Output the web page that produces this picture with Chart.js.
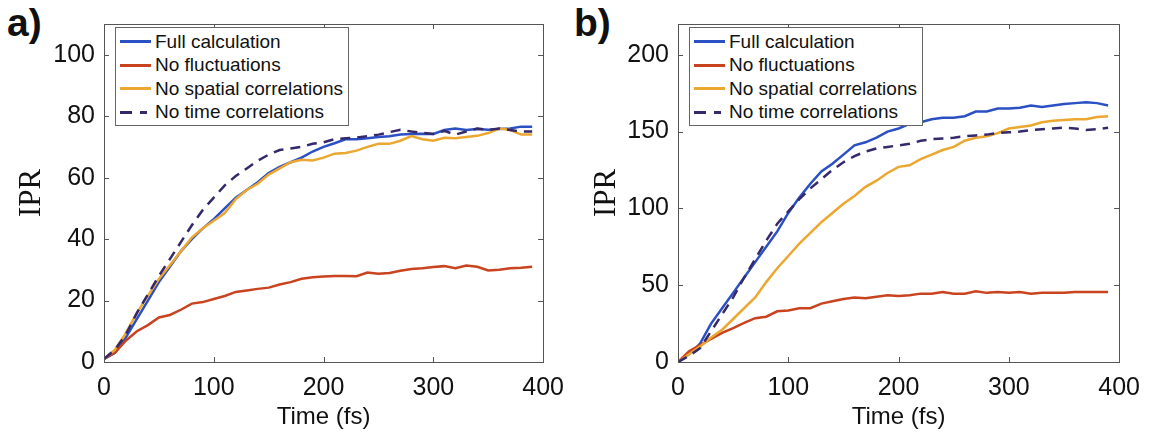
<!DOCTYPE html>
<html>
<head>
<meta charset="utf-8">
<script src="https://cdn.jsdelivr.net/npm/chart.js@4.4.1/dist/chart.umd.min.js"></script>
<style>
  body { margin: 0; background: #fff; width: 1151px; height: 434px; position: relative; overflow: hidden;
         font-family: "Liberation Sans", Arial, sans-serif; }
  canvas { position: absolute; top: 0; }
  .panel-label { position: absolute; top: 3px; font-weight: bold; font-size: 39px; line-height: 1; color: #111; }
  .legend { position: absolute; top: 27px; width: 234px; height: 99px; box-sizing: border-box;
            border: 1px solid #666; background: #fff; padding: 2px 0 0 4px; }
  .legend .row { height: 23.5px; display: flex; align-items: center; font-size: 19px; color: #111; white-space: nowrap; }
  .legend .sample { width: 31px; height: 3px; margin-right: 4px; flex: none; }
</style>
</head>
<body>
<div class="panel-label" style="left:7px">a)</div>
<div class="panel-label" style="left:574px">b)</div>
<canvas id="chartA" width="575" height="434" style="left:0"></canvas>
<canvas id="chartB" width="576" height="434" style="left:575px"></canvas>
<div class="legend" id="legendA" style="left:115px"></div>
<div class="legend" id="legendB" style="left:689px"></div>

<script>
// time axis (fs)
const timeFs = [0, 10, 20, 30, 40, 50, 60, 70, 80, 90, 100, 110, 120, 130, 140, 150, 160, 170, 180, 190,
                200, 210, 220, 230, 240, 250, 260, 270, 280, 290, 300, 310, 320, 330, 340, 350, 360, 370, 380, 390];

const seriesNames = ['Full calculation', 'No fluctuations', 'No spatial correlations', 'No time correlations'];
const seriesColors = ['#2a50c4', '#c9431f', '#eba730', '#35296b'];

// panel a)
const fullA = [1, 3, 8, 14, 20, 26, 31, 36, 40, 43.5, 46.5, 50, 53.5, 56, 58.5, 61.5, 63.5, 65, 66.5, 68.5,
               70, 71.2, 72.5, 72.5, 72.8, 73.2, 73.5, 74, 74.2, 74.3, 74.2, 75.5, 76, 75.5, 75.8, 75.6, 75.8, 76, 76.6, 76.6];
const noFluctA = [1, 3, 7, 10, 12, 14.5, 15.3, 17, 19, 19.5, 20.5, 21.5, 22.8, 23.3, 23.8, 24.2, 25.2, 26, 27.1, 27.6,
                  27.8, 28, 28, 27.9, 29.1, 28.7, 29, 29.7, 30.3, 30.5, 30.9, 31.2, 30.5, 31.4, 31, 29.8, 30, 30.5, 30.7, 31];
const noSpatialA = [1, 4, 9.5, 16, 21.5, 27, 31.5, 36, 40.5, 43.5, 46, 48.5, 53, 56, 58, 61, 63, 65, 65.8, 65.6,
                    66.5, 67.8, 68, 68.8, 70, 71, 71, 72, 73.5, 72.5, 72, 73, 72.8, 73.2, 73.6, 74.5, 76, 75.5, 74, 74];
const noTimeA = [1, 4, 9, 16, 22, 28, 33.5, 39, 44.5, 49.5, 53.5, 57.5, 60.5, 63, 65.5, 67.5, 69, 69.5, 70, 71,
                 71.5, 72.5, 72.8, 73, 73.5, 74, 74.8, 75.6, 75, 74.6, 74.2, 75.2, 74, 75, 76, 75.5, 76, 75.5, 75, 75];

// panel b)
const fullB = [0, 5, 12, 25, 35, 45, 55, 65, 75, 85, 97, 107, 116, 124, 129, 135, 141, 143, 146, 150,
               152, 155, 156, 158, 159, 159, 160, 163, 163, 165, 165, 165.5, 167, 166, 167, 168, 168.5, 169, 168.5, 167];
const noFluctB = [0, 7, 11, 15, 19, 22, 25.5, 28.5, 29.5, 33, 33.5, 35, 35, 38, 39.5, 41, 42, 41.5, 42.5, 43.5,
                  43, 43.5, 44.5, 44.5, 45.5, 44.5, 44.5, 46, 45, 45.5, 45, 45.5, 44.5, 45, 45, 45, 45.5, 45.5, 45.5, 45.5];
const noSpatialB = [0, 5, 10, 16, 21, 28, 35, 42, 52, 61, 69, 77, 84, 91, 97, 103, 108, 114, 118, 123,
                    127, 128, 132, 135, 138, 140, 144, 146, 147, 149, 152, 153, 154, 156, 157, 157.5, 158, 158, 159.5, 160];
const noTimeB = [0, 4, 9, 20, 31, 42, 55, 67, 79, 90, 98, 106, 113, 119, 125, 130, 134, 137, 139, 140,
                 141, 142, 144, 145, 145.5, 146, 147, 147.5, 148, 149, 149.5, 150, 151, 151.5, 152, 152.5, 152, 151, 151.5, 152.5];

const xTicks = [0, 100, 200, 300, 400];

// box + inward ticks on all four sides, MATLAB style
const matlabBox = {
    id: 'matlabBox',
    afterDatasetsDraw(chart) {
        const { ctx, chartArea: a, scales: { x, y } } = chart;
        ctx.save();
        ctx.strokeStyle = '#555';
        ctx.lineWidth = 1;
        ctx.beginPath();
        x.ticks.forEach(t => {
            const px = Math.round(x.getPixelForValue(t.value)) + 0.5;
            ctx.moveTo(px, a.bottom); ctx.lineTo(px, a.bottom - 5);
            ctx.moveTo(px, a.top); ctx.lineTo(px, a.top + 5);
        });
        y.ticks.forEach(t => {
            const py = Math.round(y.getPixelForValue(t.value)) + 0.5;
            ctx.moveTo(a.left, py); ctx.lineTo(a.left + 5, py);
            ctx.moveTo(a.right, py); ctx.lineTo(a.right - 5, py);
        });
        ctx.stroke();
        ctx.strokeRect(Math.round(a.left) + 0.5, Math.round(a.top) + 0.5,
                       Math.round(a.right - a.left), Math.round(a.bottom - a.top));
        ctx.restore();
    }
};

function makeChart(id, series, yMax, yStep, yAxisWidth, rightPad) {
    const ctx = document.getElementById(id);

    const datasets = series.map((vals, i) => ({
        label: seriesNames[i],
        data: timeFs.map((t, k) => ({ x: t, y: vals[k] })),
        borderColor: seriesColors[i],
        borderWidth: 2.5,
        borderDash: i === 3 ? [10, 7] : [],
        pointRadius: 0,
        tension: 0,
        order: 3 - i
    }));

    const options = {
        responsive: false,
        animation: false,
        devicePixelRatio: 1,
        layout: { padding: { top: 16, right: rightPad, left: 0, bottom: 0 } },
        plugins: { legend: { display: false }, tooltip: { enabled: false } },
        scales: {
            x: {
                type: 'linear', min: 0, max: 400,
                grid: { display: false, drawTicks: false },
                border: { display: false },
                afterBuildTicks: s => { s.ticks = xTicks.map(v => ({ value: v })); },
                afterFit: s => { s.height = 72; },
                ticks: { color: '#111', padding: 11, maxRotation: 0,
                         font: { family: '"Liberation Sans", Arial, sans-serif', size: 25 } },
                title: { display: true, text: 'Time (fs)', color: '#111', padding: { top: 0, bottom: 2 },
                         font: { family: '"Liberation Sans", Arial, sans-serif', size: 24 } }
            },
            y: {
                min: 0, max: yMax,
                grid: { display: false, drawTicks: false },
                border: { display: false },
                afterFit: s => { s.width = yAxisWidth; },
                ticks: { stepSize: yStep, includeBounds: false, color: '#111', padding: 9,
                         font: { family: '"Liberation Sans", Arial, sans-serif', size: 25 } },
                title: { display: true, text: 'IPR', color: '#111', padding: { top: 13, bottom: 0 },
                         font: { family: '"Liberation Serif", "Times New Roman", serif', size: 31 } }
            }
        }
    };

    return new Chart(ctx, { type: 'line', data: { datasets: datasets }, options: options, plugins: [matlabBox] });
}

function buildLegend(id) {
    const box = document.getElementById(id);
    seriesNames.forEach((name, i) => {
        const row = document.createElement('div');
        row.className = 'row';
        const sample = document.createElement('span');
        sample.className = 'sample';
        sample.style.background = i === 3
            ? 'linear-gradient(to right, ' + seriesColors[i] + ' 0 12px, transparent 12px 20px, ' + seriesColors[i] + ' 20px 27px, transparent 27px)'
            : seriesColors[i];
        const label = document.createElement('span');
        label.textContent = name;
        row.appendChild(sample);
        row.appendChild(label);
        box.appendChild(row);
    });
}

makeChart('chartA', [fullA, noFluctA, noSpatialA, noTimeA], 110, 20, 104, 24);
makeChart('chartB', [fullB, noFluctB, noSpatialB, noTimeB], 220, 50, 103, 26);
buildLegend('legendA');
buildLegend('legendB');
</script>
</body>
</html>
